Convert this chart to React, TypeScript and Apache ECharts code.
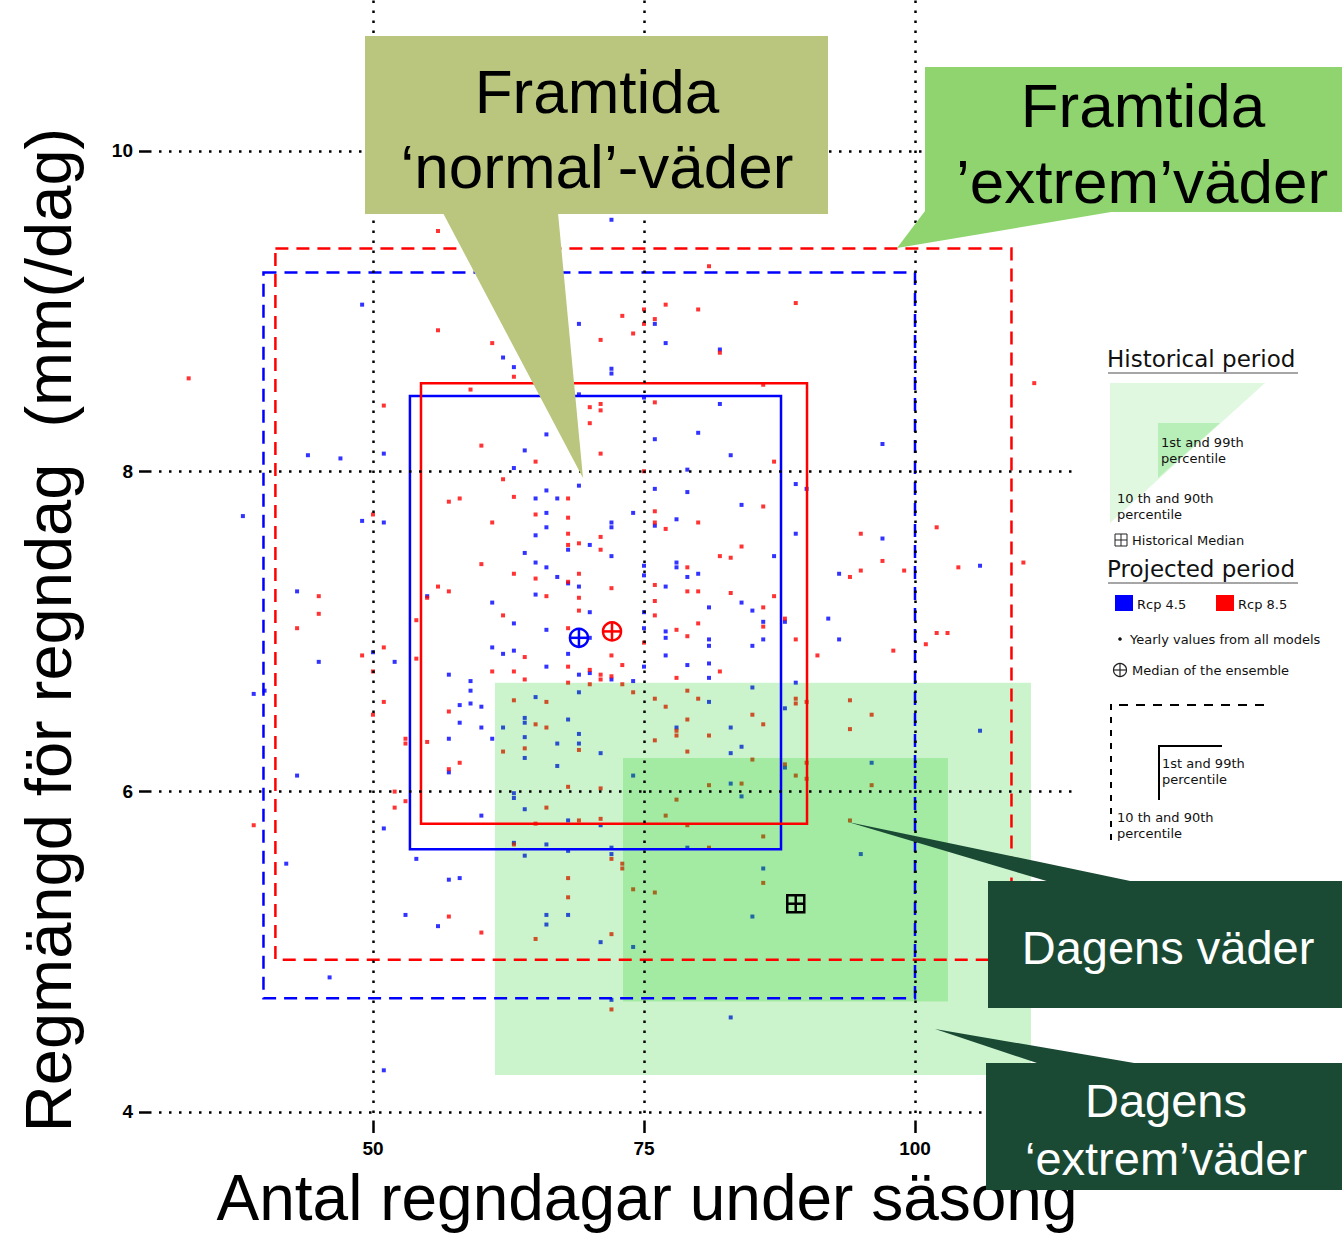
import React, { useEffect, useRef } from "react";
import * as echarts from "echarts";

// ---------- data ----------
const xTicks = [50, 75, 100];
const yTicks = [4, 6, 8, 10];

// [rain days, mm/rain day] yearly values from all models
const rcp85Points: number[][] = [
  [56,9.50],[56,8.88],[61,8.80],[71,8.82],[63,8.59],[33,8.58],[59,8.51],[51,8.41],[70,8.40],[71,8.42],[71,8.38],[70,8.30],[60,8.16],[71,8.11],[65,8.06],[62,7.95],[63,7.84],[57,7.81],[58,7.83],[68,7.83],
  [81,9.28],[77,9.04],[80,9.01],[89,9.05],[73,8.97],[75,9.01],[76,8.95],[75,8.92],[74,8.86],[82,8.74],[111,8.55],[86,8.54],[76,8.43],[87,8.06],[75,8.00],[86,7.78],[50,7.73],[65,7.73],[68,7.71],[61,7.68],
  [68,7.61],[68,7.54],[69,7.55],[71,7.59],[71,7.51],[60,7.42],[63,7.36],[65,7.33],[68,7.31],[69,7.36],[45,7.22],[56,7.28],[57,7.25],[55,7.21],[66,7.22],[69,7.21],[45,7.11],[69,7.13],[54,7.07],[62,7.10],
  [43,7.02],[68,7.02],[51,6.90],[49,6.85],[64,6.84],[54,6.83],[68,6.78],[50,6.75],[61,6.75],[63,6.75],[70,6.76],[71,6.73],[71,6.70],[64,6.70],[68,6.68],[70,6.67],[51,6.56],[63,6.57],[66,6.56],[57,6.50],
  [50,6.48],[65,6.42],[66,6.40],[53,6.33],[53,6.30],[55,6.31],[62,6.25],[64,6.27],[69,6.26],[58,6.18],[57,6.14],[68,6.03],[71,6.02],[52,6.00],[76,7.75],[76,7.68],[77,7.64],[80,7.68],[84,7.53],[82,7.47],
  [83,7.46],[95,7.61],[102,7.65],[97,7.44],[95,7.38],[94,7.34],[99,7.38],[104,7.40],[110,7.43],[79,7.40],[72,7.27],[76,7.29],[79,7.25],[80,7.25],[83,7.24],[87,7.22],[76,7.19],[86,7.15],[76,7.10],[88,7.08],
  [86,7.03],[80,7.05],[78,7.01],[79,6.97],[89,6.95],[102,6.99],[103,6.99],[101,6.92],[98,6.88],[91,6.85],[75,6.93],[72,6.85],[73,6.79],[82,6.75],[72,6.72],[78,6.71],[73,6.67],[74,6.62],[76,6.58],[79,6.63],
  [80,6.58],[77,6.53],[89,6.58],[89,6.55],[90,6.56],[94,6.57],[96,6.48],[85,6.48],[86,6.42],[79,6.45],[78,6.38],[78,6.35],[81,6.35],[94,6.39],[76,6.32],[79,6.25],[85,6.20],[88,6.17],[89,6.10],[90,6.18],
  [90,6.08],[81,6.04],[84,6.05],[96,6.04],[78,5.95],[53,5.94],[52,5.90],[39,5.79],[66,5.90],[69,5.82],[71,5.83],[65,5.80],[77,5.85],[79,5.79],[94,5.82],[86,5.72],[63,5.67],[72,5.58],[73,5.55],[73,5.52],
  [81,5.65],[86,5.43],[68,5.46],[74,5.39],[76,5.37],[68,5.34],[57,5.22],[60,5.12],[65,5.08],[72,5.11],[72,4.64],
];

const rcp45Points: number[][] = [
  [49,9.04],[69,8.92],[62,8.71],[63,8.65],[69,8.48],[66,8.23],[64,8.13],[44,8.10],[47,8.08],[51,8.11],[63,8.02],[69,7.91],[65,7.83],[66,7.88],[67,7.83],[72,9.57],[76,8.92],[77,8.80],[82,8.76],[72,8.64],
  [72,8.61],[75,8.46],[82,8.42],[80,8.24],[76,8.20],[83,8.10],[97,8.17],[79,8.01],[89,7.92],[90,7.89],[76,7.89],[79,7.87],[84,7.79],[38,7.72],[49,7.69],[51,7.68],[66,7.74],[66,7.65],[65,7.60],[68,7.51],
  [70,7.54],[64,7.49],[65,7.43],[66,7.40],[67,7.34],[68,7.30],[69,7.28],[43,7.25],[55,7.22],[65,7.23],[61,7.18],[70,7.12],[63,7.05],[66,7.01],[70,6.96],[50,6.87],[45,6.81],[52,6.81],[61,6.90],[62,6.86],
  [63,6.88],[68,6.86],[66,6.78],[57,6.73],[69,6.73],[70,6.74],[59,6.69],[39,6.61],[40,6.63],[59,6.63],[69,6.62],[65,6.59],[58,6.54],[59,6.55],[60,6.53],[58,6.43],[64,6.46],[64,6.43],[68,6.45],[60,6.40],
  [62,6.40],[69,6.36],[57,6.33],[61,6.33],[64,6.34],[67,6.30],[69,6.30],[71,6.24],[64,6.21],[67,6.16],[43,6.10],[57,6.12],[63,5.99],[63,5.96],[74,7.74],[72,7.68],[72,7.65],[76,7.66],[78,7.70],[89,7.61],
  [72,7.47],[87,7.47],[97,7.58],[93,7.36],[106,7.41],[75,7.41],[75,7.35],[78,7.43],[78,7.40],[79,7.34],[80,7.36],[77,7.28],[81,7.15],[84,7.18],[85,7.13],[75,7.12],[88,7.06],[92,7.08],[86,7.06],[75,7.02],
  [77,7.00],[77,6.96],[81,6.95],[81,6.91],[85,6.91],[86,6.95],[93,6.95],[77,6.85],[75,6.78],[79,6.79],[81,6.80],[72,6.70],[74,6.69],[81,6.71],[89,6.68],[81,6.56],[85,6.65],[88,6.52],[78,6.40],[83,6.40],
  [106,6.38],[83,6.24],[84,6.28],[88,6.15],[96,6.18],[74,6.10],[83,6.05],[84,5.97],[51,5.77],[42,5.55],[54,5.58],[60,5.85],[64,5.89],[68,5.82],[71,5.79],[63,5.68],[66,5.67],[68,5.63],[72,5.65],[72,5.61],
  [79,5.65],[64,5.60],[95,5.61],[86,5.52],[57,5.45],[58,5.46],[53,5.23],[56,5.16],[66,5.23],[66,5.17],[68,5.23],[85,5.22],[71,5.06],[74,5.03],[46,4.84],[72,4.70],[83,4.59],[51,4.26],
];

const rcp45Median = [69.0, 6.96];
const rcp85Median = [72.05, 7.0];
const historicalMedian = [89.0, 5.3];

// percentile boxes: [xMin, yMin, xMax, yMax]
const histOuter = [61.25, 4.23, 110.7, 6.68];
const histInner = [73.06, 4.69, 103.04, 6.21];
const rcp45Dashed = [39.9, 4.71, 100.0, 9.24];
const rcp85Dashed = [41.0, 4.95, 108.9, 9.39];
const rcp45Solid = [53.41, 5.64, 87.64, 8.47];
const rcp85Solid = [54.43, 5.8, 90.04, 8.55];

// ---------- styling ----------
const ARIAL = "'Liberation Sans', Arial, sans-serif";
const VERD = "'DejaVu Sans', Verdana, sans-serif";
const RED = "#ff0000";
const BLUE = "#0000ff";

function boxSeries(box: number[], style: any, z: number) {
  return {
    type: "custom",
    silent: true,
    z,
    data: [box],
    encode: { x: [0, 2], y: [1, 3] },
    renderItem: (_p: any, api: any) => {
      const a = api.coord([api.value(0), api.value(3)]);
      const b = api.coord([api.value(2), api.value(1)]);
      return {
        type: "rect",
        shape: { x: a[0], y: a[1], width: b[0] - a[0], height: b[1] - a[1] },
        style,
      };
    },
  };
}

function medianSeries(pt: number[], color: string, z: number) {
  return {
    type: "custom",
    silent: true,
    z,
    data: [pt],
    encode: { x: 0, y: 1 },
    renderItem: (_p: any, api: any) => {
      const c = api.coord([api.value(0), api.value(1)]);
      const r = 9;
      const st = { stroke: color, lineWidth: 2.5, fill: "none" };
      return {
        type: "group",
        children: [
          { type: "circle", shape: { cx: c[0], cy: c[1], r }, style: st },
          { type: "line", shape: { x1: c[0] - r, y1: c[1], x2: c[0] + r, y2: c[1] }, style: st },
          { type: "line", shape: { x1: c[0], y1: c[1] - r, x2: c[0], y2: c[1] + r }, style: st },
        ],
      };
    },
  };
}

function histMedianSeries(pt: number[], z: number) {
  return {
    type: "custom",
    silent: true,
    z,
    data: [pt],
    encode: { x: 0, y: 1 },
    renderItem: (_p: any, api: any) => {
      const c = api.coord([api.value(0), api.value(1)]);
      const h = 8.5;
      const st = { stroke: "#000", lineWidth: 2.5, fill: "none" };
      return {
        type: "group",
        children: [
          { type: "rect", shape: { x: c[0] - h, y: c[1] - h, width: 2 * h, height: 2 * h }, style: st },
          { type: "line", shape: { x1: c[0] - h, y1: c[1], x2: c[0] + h, y2: c[1] }, style: st },
          { type: "line", shape: { x1: c[0], y1: c[1] - h, x2: c[0], y2: c[1] + h }, style: st },
        ],
      };
    },
  };
}

function txt(text: string, x: number, y: number, size: number, opts: any = {}) {
  const align = opts.align || "left";
  return {
    type: "text",
    x,
    y,
    z: 100,
    rotation: opts.rotation || 0,
    silent: true,
    style: {
      text,
      fill: opts.fill || "#111",
      fontSize: size,
      fontFamily: opts.family || VERD,
      fontWeight: opts.weight || "normal",
      align,
      textAlign: align,
      verticalAlign: "middle",
      textVerticalAlign: "middle",
    },
  };
}

function rect(x: number, y: number, w: number, h: number, fill: string) {
  return { type: "rect", z: 100, silent: true, shape: { x, y, width: w, height: h }, style: { fill } };
}

function poly(points: number[][], fill: string) {
  return { type: "polygon", z: 100, silent: true, shape: { points }, style: { fill } };
}

function line(x1: number, y1: number, x2: number, y2: number, style: any) {
  return { type: "line", z: 100, silent: true, shape: { x1, y1, x2, y2 }, style };
}

const OLIVE = "#bac57e";
const LGREEN = "#8fd46f";
const DGREEN = "#1a4a34";

export default function App() {
  const ref = useRef<HTMLDivElement>(null);

  useEffect(() => {
    document.body.style.margin = "0";
    const chart = echarts.init(ref.current!, null, { renderer: "svg" });

    const graphics: any[] = [
      // axis titles
      txt("Antal regndagar under säsong", 647, 1198, 64, { family: ARIAL, fill: "#000", align: "center" }),
      txt("Regmängd för regndag  (mm(/dag)", 48, 630, 65, { family: ARIAL, fill: "#000", align: "center", rotation: Math.PI / 2 }),

      // callout: Framtida normal
      rect(365, 36, 463, 178, OLIVE),
      poly([[443, 213], [558, 213], [583, 478]], OLIVE),
      txt("Framtida", 597, 91, 62, { family: ARIAL, fill: "#000", align: "center" }),
      txt("‘normal’-väder", 597, 166, 62, { family: ARIAL, fill: "#000", align: "center" }),

      // callout: Framtida extrem
      rect(925, 67, 417, 145, LGREEN),
      poly([[925, 211], [1117, 211], [897, 248]], LGREEN),
      txt("Framtida", 1143, 105, 62, { family: ARIAL, fill: "#000", align: "center" }),
      txt("’extrem’väder", 1142, 181, 62, { family: ARIAL, fill: "#000", align: "center" }),

      // callout: Dagens väder
      rect(988, 881, 354, 127, DGREEN),
      poly([[848, 822], [1135, 882], [1050, 882]], DGREEN),
      txt("Dagens väder", 1168, 947, 47, { family: ARIAL, fill: "#fff", align: "center" }),

      // callout: Dagens extrem
      rect(986, 1063, 356, 127, DGREEN),
      poly([[935, 1029], [1140, 1064], [1040, 1064]], DGREEN),
      txt("Dagens", 1166, 1100, 47, { family: ARIAL, fill: "#fff", align: "center" }),
      txt("‘extrem’väder", 1166, 1158, 47, { family: ARIAL, fill: "#fff", align: "center" }),

      // legend: historical
      txt("Historical period", 1107, 359, 23),
      line(1108, 373, 1298, 373, { stroke: "#888", lineWidth: 1.5 }),
      poly([[1110, 383], [1265, 383], [1110, 523]], "#e0f8e0"),
      poly([[1158, 423], [1220, 423], [1158, 478]], "#b8efb8"),
      txt("1st and 99th", 1161, 442, 13),
      txt("percentile", 1161, 458, 13),
      txt("10 th and 90th", 1117, 498, 13),
      txt("percentile", 1117, 514, 13),
      { type: "rect", z: 100, silent: true, shape: { x: 1115, y: 534, width: 12, height: 12 }, style: { fill: "none", stroke: "#222", lineWidth: 1 } },
      line(1115, 540, 1127, 540, { stroke: "#222", lineWidth: 1 }),
      line(1121, 534, 1121, 546, { stroke: "#222", lineWidth: 1 }),
      txt("Historical Median", 1132, 540, 13),

      // legend: projected
      txt("Projected period", 1107, 569, 23),
      line(1108, 583, 1298, 583, { stroke: "#888", lineWidth: 1.5 }),
      rect(1115, 595, 18, 16, BLUE),
      txt("Rcp 4.5", 1137, 604, 13),
      rect(1216, 595, 18, 16, RED),
      txt("Rcp 8.5", 1238, 604, 13),
      { type: "circle", z: 100, silent: true, shape: { cx: 1120, cy: 639, r: 1.8 }, style: { fill: "#111" } },
      txt("Yearly values from all models", 1130, 639, 13),
      { type: "circle", z: 100, silent: true, shape: { cx: 1120, cy: 670, r: 6.5 }, style: { fill: "none", stroke: "#222", lineWidth: 1.2 } },
      line(1113.5, 670, 1126.5, 670, { stroke: "#222", lineWidth: 1.2 }),
      line(1120, 663.5, 1120, 676.5, { stroke: "#222", lineWidth: 1.2 }),
      txt("Median of the ensemble", 1132, 670, 13),

      line(1119, 705, 1266, 705, { stroke: "#000", lineWidth: 2, lineDash: [9, 8] }),
      line(1111, 704, 1111, 840, { stroke: "#000", lineWidth: 2, lineDash: [6, 7] }),
      { type: "polyline", z: 100, silent: true, shape: { points: [[1159, 800], [1159, 746], [1222, 746]] }, style: { stroke: "#000", lineWidth: 2, fill: "none" } },
      txt("1st and 99th", 1162, 763, 13),
      txt("percentile", 1162, 779, 13),
      txt("10 th and 90th", 1117, 817, 13),
      txt("percentile", 1117, 833, 13),
    ];

    const option: any = {
      animation: false,
      backgroundColor: "#fff",
      grid: { left: 149, right: 267, top: 0, bottom: 114, containLabel: false },
      xAxis: {
        type: "value",
        min: 29.34,
        max: 114.76,
        splitLine: { show: false },
        axisLine: { show: false },
        axisTick: { show: true, length: 10, customValues: xTicks, lineStyle: { color: "#000", width: 2.5 } },
        axisLabel: {
          customValues: xTicks,
          margin: 16,
          color: "#000",
          fontFamily: ARIAL,
          fontWeight: "bold",
          fontSize: 19,
        },
      },
      yAxis: {
        type: "value",
        min: 3.931,
        max: 10.942,
        splitLine: { show: false },
        axisLine: { show: false },
        axisTick: { show: true, length: 10, customValues: yTicks, lineStyle: { color: "#000", width: 2.5 } },
        axisLabel: {
          customValues: yTicks,
          margin: 16,
          color: "#000",
          fontFamily: ARIAL,
          fontWeight: "bold",
          fontSize: 19,
        },
      },
      series: [
        {
          type: "line",
          data: [],
          z: 1,
          silent: true,
          markLine: {
            silent: true,
            symbol: "none",
            animation: false,
            label: { show: false },
            emphasis: { disabled: true },
            lineStyle: { color: "#000", width: 2.5, type: [2.5, 7.5] },
            data: [...xTicks.map((v) => ({ xAxis: v })), ...yTicks.map((v) => ({ yAxis: v }))],
          },
        },
        {
          type: "scatter",
          name: "Rcp 4.5",
          data: rcp45Points,
          symbol: "rect",
          symbolSize: 4,
          z: 2,
          silent: true,
          itemStyle: { color: BLUE },
        },
        {
          type: "scatter",
          name: "Rcp 8.5",
          data: rcp85Points,
          symbol: "rect",
          symbolSize: 4,
          z: 2,
          silent: true,
          itemStyle: { color: RED },
        },
        boxSeries(histOuter, { fill: "rgba(0,200,0,0.2)" }, 3),
        boxSeries(histInner, { fill: "rgba(0,200,0,0.2)" }, 3),
        boxSeries(rcp45Dashed, { fill: "none", stroke: BLUE, lineWidth: 2.5, lineDash: [13, 8] }, 4),
        boxSeries(rcp85Dashed, { fill: "none", stroke: RED, lineWidth: 2.5, lineDash: [13, 8] }, 4),
        boxSeries(rcp45Solid, { fill: "none", stroke: BLUE, lineWidth: 2.5 }, 4),
        boxSeries(rcp85Solid, { fill: "none", stroke: RED, lineWidth: 2.5 }, 4),
        medianSeries(rcp45Median, BLUE, 5),
        medianSeries(rcp85Median, RED, 5),
        histMedianSeries(historicalMedian, 5),
      ],
      graphic: { elements: graphics },
    };

    chart.setOption(option);
    return () => chart.dispose();
  }, []);

  return <div ref={ref} style={{ width: 1342, height: 1237 }} />;
}
